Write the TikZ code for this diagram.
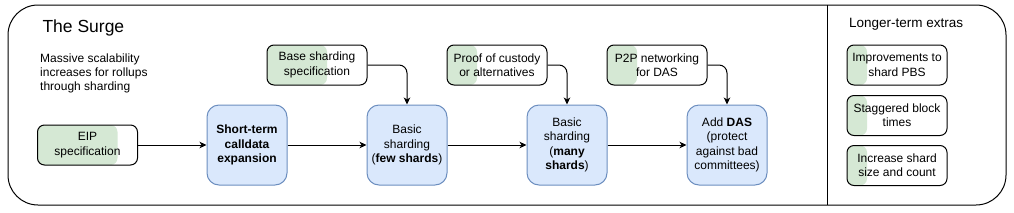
\documentclass[tikz,border=0pt]{standalone}
\usepackage{fontspec}
\setmainfont{Liberation Sans}
\usetikzlibrary{arrows.meta}
\definecolor{stepfill}{HTML}{DAE8FC}
\definecolor{stepline}{HTML}{6C8EBF}
\definecolor{donefill}{HTML}{D5E8D4}
\tikzset{
  boxfont/.style={font=\fontsize{12}{14.4}\selectfont},
  stepbox/.style={boxfont, draw=stepline, fill=stepfill, line width=1pt, rounded corners=12pt,
    minimum width=80pt, minimum height=80pt, inner sep=0pt, align=center},
  taskbox/.style={boxfont, draw, fill=white, line width=1pt, rounded corners=7pt,
    minimum width=100pt, minimum height=40pt, inner sep=0pt, align=center,
    path picture={\fill[donefill] (path picture bounding box.south west)
      rectangle ([xshift=#1]path picture bounding box.north west);}},
  taskbox/.default=0pt,
  flow/.style={line width=1pt, -{Stealth[length=7pt,width=6.5pt,inset=2pt]}},
}
\begin{document}
\begin{tikzpicture}[x=1pt,y=-1pt]
\useasboundingbox (0,0) rectangle (1014,212);
\draw[line width=1pt, rounded corners=30pt] (8,5) rectangle (1006,205);
\draw[line width=1pt] (827,5) -- (827,205);
\node[anchor=west, font=\fontsize{17.5}{20}\selectfont] (surge) at (39,28) {The Surge};
\node[anchor=north west, boxfont, align=left, inner sep=0pt, font=\fontsize{12}{14}\selectfont] (goal) at (40,54)
  {Massive scalability\\increases for rollups\\through sharding};
\node[anchor=west, inner sep=0pt, font=\fontsize{13.5}{16}\selectfont] (extras) at (849,24) {Longer-term extras};
\node[taskbox=80pt] (eip) at (87.5,145) {EIP\\specification};
\node[stepbox, font=\fontsize{12}{14.4}\selectfont\bfseries] (calldata) at (247,145) {Short-term\\calldata\\expansion};
\node[stepbox] (few) at (407,145) {Basic\\sharding\\(\textbf{few shards})};
\node[stepbox] (many) at (567,145) {Basic\\sharding\\(\textbf{many}\\\textbf{shards})};
\node[stepbox] (das) at (727,145) {Add \textbf{DAS}\\(protect\\against bad\\committees)};
\node[taskbox=60pt] (basespec) at (317,65) {Base sharding\\specification};
\node[taskbox=30pt] (custody) at (497,65) {Proof of custody\\or alternatives};
\node[taskbox=30pt] (p2p) at (657,65) {P2P networking\\for DAS};
\node[taskbox=20pt] (pbs) at (897,65) {Improvements to\\shard PBS};
\node[taskbox=20pt] (stagger) at (897,115.5) {Staggered block\\times};
\node[taskbox=20pt] (count) at (897,165.5) {Increase shard\\size and count};
\draw[flow] (eip) -- (calldata);
\draw[flow] (calldata) -- (few);
\draw[flow] (few) -- (many);
\draw[flow] (many) -- (das);
\draw[flow, rounded corners=8pt] (basespec.east) -| (few.north);
\draw[flow, rounded corners=8pt] (custody.east) -| (many.north);
\draw[flow, rounded corners=8pt] (p2p.east) -| (das.north);
\end{tikzpicture}
\end{document}
